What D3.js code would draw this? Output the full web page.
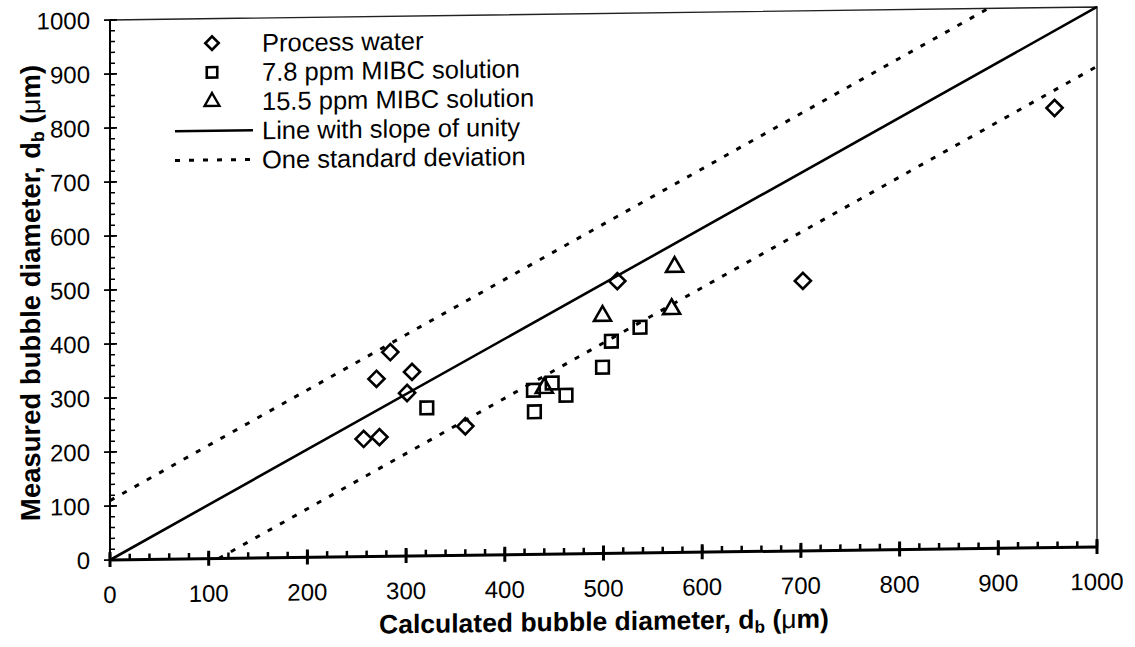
<!DOCTYPE html>
<html>
<head>
<meta charset="utf-8">
<script src="https://cdn.jsdelivr.net/npm/d3@7"></script>
<style>
  html, body { margin: 0; padding: 0; background: #fff; }
  svg { display: block; }
  text { font-family: "Liberation Sans", Arial, sans-serif; fill: #000; }
</style>
</head>
<body>
<svg id="chart" width="1135" height="647"></svg>
<script>
// ---- data ----
const processWater = [
  [257, 218], [273, 221], [270, 329], [284, 378], [301, 302],
  [306, 341], [360, 239], [514, 504], [702, 500], [957, 814]
];
const mibc78 = [
  [321, 274], [430, 264], [429, 304], [448, 317], [462, 294],
  [499, 345], [508, 393], [537, 418]
];
const mibc155 = [
  [440, 308], [499, 440], [569, 451], [572, 529]
];
const stdDev = 110;
const xTicks = [0, 100, 200, 300, 400, 500, 600, 700, 800, 900, 1000];
const yTicks = [0, 100, 200, 300, 400, 500, 600, 700, 800, 900, 1000];
const minorTicks = d3.range(0, 1001, 20);
const legendLabels = [
  "Process water",
  "7.8 ppm MIBC solution",
  "15.5 ppm MIBC solution",
  "Line with slope of unity",
  "One standard deviation"
];

// ---- layout ----
const svg = d3.select("#chart");
const x = d3.scaleLinear().domain([0, 1000]).range([110, 1097]);
const y = d3.scaleLinear().domain([0, 1000]).range([560, 20]);

// the scanned figure is slightly sheared; reproduce it
const root = svg.append("g")
  .attr("transform", `translate(110,560) skewY(-0.756) translate(-110,-560)`);

// frame (top and right)
root.append("path")
  .attr("d", `M${x(0)},${y(1000)}H${x(1000)}V${y(0)}`)
  .attr("fill", "none").attr("stroke", "#222").attr("stroke-width", 1.4);

// lines
const lineGen = d3.line().x(d => x(d[0])).y(d => y(d[1]));
const unity = [[0, 0], [1000, 1000]];
const upper = [[0, stdDev], [1000 - stdDev, 1000]];
const lower = [[stdDev, 0], [1000, 1000 - stdDev]];
root.append("path").attr("d", lineGen(unity))
  .attr("fill", "none").attr("stroke", "#000").attr("stroke-width", 2.6);
[upper, lower].forEach(l => {
  root.append("path").attr("d", lineGen(l))
    .attr("fill", "none").attr("stroke", "#000").attr("stroke-width", 3)
    .attr("stroke-dasharray", "5,9");
});

// y axis
const yAxis = root.append("g").attr("transform", `translate(${x(0)},0)`);
yAxis.append("line").attr("y1", y(0)).attr("y2", y(1000))
  .attr("stroke", "#000").attr("stroke-width", 2);
yAxis.selectAll("line.minor").data(minorTicks).join("line").attr("class", "minor")
  .attr("x1", 0).attr("x2", 5).attr("y1", d => y(d)).attr("y2", d => y(d))
  .attr("stroke", "#000").attr("stroke-width", 1.5);
yAxis.selectAll("line.major").data(yTicks).join("line").attr("class", "major")
  .attr("x1", -6).attr("x2", 7).attr("y1", d => y(d)).attr("y2", d => y(d))
  .attr("stroke", "#000").attr("stroke-width", 1.8);
yAxis.selectAll("text").data(yTicks).join("text")
  .attr("x", -20).attr("y", d => y(d)).attr("dy", "0.36em")
  .attr("text-anchor", "end").attr("font-size", 24)
  .text(d => d);

// x axis
const xAxis = root.append("g").attr("transform", `translate(0,${y(0)})`);
xAxis.append("line").attr("x1", x(0)).attr("x2", x(1000))
  .attr("stroke", "#000").attr("stroke-width", 3);
xAxis.selectAll("line.minor").data(minorTicks).join("line").attr("class", "minor")
  .attr("x1", d => x(d)).attr("x2", d => x(d)).attr("y1", 0).attr("y2", -6)
  .attr("stroke", "#000").attr("stroke-width", 2.5);
xAxis.selectAll("line.major").data(xTicks).join("line").attr("class", "major")
  .attr("x1", d => x(d)).attr("x2", d => x(d)).attr("y1", -8).attr("y2", 7)
  .attr("stroke", "#000").attr("stroke-width", 3);
xAxis.selectAll("text").data(xTicks).join("text")
  .attr("x", d => x(d)).attr("y", 43)
  .attr("text-anchor", "middle").attr("font-size", 24)
  .text(d => d);

// markers
const diamondPath = d3.symbol(d3.symbolSquare, 130)();
const squarePath = d3.symbol(d3.symbolSquare, 160)();
const trianglePath = d3.symbol(d3.symbolTriangle, 125)();
const mk = { fill: "none", stroke: "#000", "stroke-width": 2.6 };

function drawMarkers(data, path, rot) {
  root.append("g").selectAll("path").data(data).join("path")
    .attr("d", path)
    .attr("transform", d => `translate(${x(d[0])},${y(d[1])})${rot ? " rotate(45)" : ""}`)
    .attr("fill", mk.fill).attr("stroke", mk.stroke).attr("stroke-width", mk["stroke-width"])
    .attr("stroke-linejoin", "miter");
}
drawMarkers(processWater, diamondPath, true);
drawMarkers(mibc78, squarePath, false);
drawMarkers(mibc155, trianglePath, false);

// legend
const legRows = [44.5, 73.7, 102.9, 132.1, 161.3];
const legX = 212, legTextX = 262;
const lg = root.append("g");
lg.append("path").attr("d", d3.symbol(d3.symbolSquare, 90)())
  .attr("transform", `translate(${legX},${legRows[0]}) rotate(45)`)
  .attr("fill", "none").attr("stroke", "#000").attr("stroke-width", 2.6);
lg.append("path").attr("d", d3.symbol(d3.symbolSquare, 110)())
  .attr("transform", `translate(${legX},${legRows[1]})`)
  .attr("fill", "none").attr("stroke", "#000").attr("stroke-width", 2.6);
lg.append("path").attr("d", d3.symbol(d3.symbolTriangle, 95)())
  .attr("transform", `translate(${legX},${legRows[2]})`)
  .attr("fill", "none").attr("stroke", "#000").attr("stroke-width", 2.4);
lg.append("line").attr("x1", 175).attr("x2", 253)
  .attr("y1", legRows[3]).attr("y2", legRows[3])
  .attr("stroke", "#000").attr("stroke-width", 2.6);
lg.append("line").attr("x1", 175).attr("x2", 257)
  .attr("y1", legRows[4]).attr("y2", legRows[4])
  .attr("stroke", "#000").attr("stroke-width", 3).attr("stroke-dasharray", "5,9");
lg.selectAll("text").data(legendLabels).join("text")
  .attr("x", legTextX).attr("y", (d, i) => legRows[i]).attr("dy", "0.36em")
  .attr("font-size", 25.5)
  .text(d => d);

// axis titles
function title(sel, prefix) {
  sel.append("tspan").text(prefix + "d");
  sel.append("tspan").attr("font-size", "0.65em").attr("dy", "0.25em").text("b");
  sel.append("tspan").attr("dy", "-0.16em").text(" (");
  sel.append("tspan").attr("font-weight", "normal").text("μ");
  sel.append("tspan").text("m)");
}
const xt = root.append("text")
  .attr("x", 604).attr("y", 637)
  .attr("text-anchor", "middle").attr("font-size", 26.5).attr("font-weight", "bold");
title(xt, "Calculated bubble diameter, ");
const yt = root.append("text")
  .attr("transform", "translate(40,292) rotate(-90)")
  .attr("text-anchor", "middle").attr("font-size", 27.5).attr("font-weight", "bold");
title(yt, "Measured bubble diameter, ");
</script>
</body>
</html>
